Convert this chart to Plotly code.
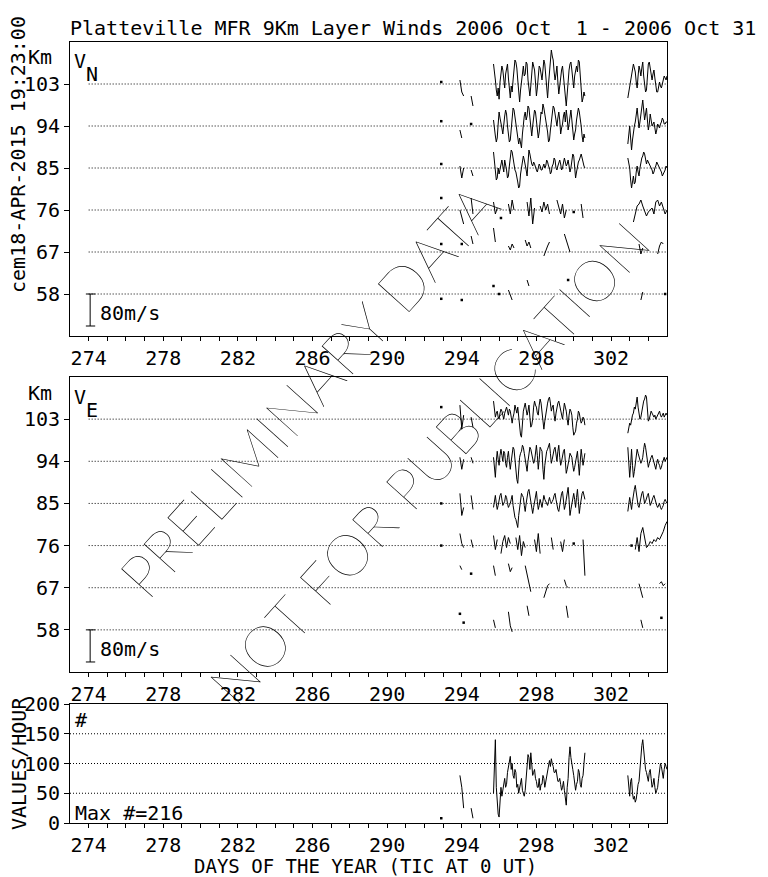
import plotly.graph_objects as go

N = None
FONT = "DejaVu Sans Mono"

heights = [58, 67, 76, 85, 94, 103]
day_ticks = [274, 278, 282, 286, 290, 294, 298, 302]
count_ticks = [0, 50, 100, 150, 200]

# sample times (day of year)
days_early = [292.9, N, 293.9, 294.0, 294.1, N, 294.5, 294.6]
days_main = [round(295.7 + 0.1 * i, 2) for i in range(50)]        # sparse levels
days_late = [round(302.8 + 0.1 * i, 2) for i in range(23)]
days_main_fine = [round(295.7 + 0.05 * i, 2) for i in range(99)]  # dense levels
days_late_fine = [round(302.8 + 0.05 * i, 2) for i in range(45)]

# ---------------- V_N (m/s) ----------------
vn103_early = [5, N, 10, -20, -30, N, -30, -55]
vn103_main = [50, 35, 10, -15, -30, -10, -38, 5, 20, 45,
              35, 0, -10, 25, 40, 50, 15, -20, -35, -5,
              -20, 10, 30, 60, 55, 40, 10, -25, -45, -15,
              5, 30, 45, 20, 25, 55, 50, 10, -20, -30,
              -5, 30, 55, 45, 35, 5, -30, -10, 20, 45,
              40, 15, 10, 35, 60, 50, 25, -10, -35, 0,
              30, 65, 85, 70, 60, 30, 10, 25, 45, 5,
              -25, -5, 20, 35, 45, 25, 0, -30, -55, -20,
              10, 35, 50, 55, 35, 15, -10, 20, 40, 45,
              30, 60, 55, 10, -30, -45, -35, -20, -30]
vn103_late = [N, N, -35, -20, -10, 5, 25, 45, 50, 40,
              30, 5, -10, 20, 45, 35, 20, 40, 55, 20,
              0, -20, -15, 20, 50, 55, 40, 20, 10, 25,
              35, 15, -5, -20, -20, -5, 5, -5, -10, 0,
              10, 20, 15, 10, 20]

vn94_early = [12, N, -10, -30, N, N, 5, N]
vn94_main = [15, -10, -25, -40, -30, 5, 35, 20, 10, -5,
             -20, 10, 25, 40, 30, 0, -15, -40, -35, 0,
             20, 45, 40, 20, 5, -15, -25, -45, -30, -50,
             -55, -20, 10, 25, 35, 15, 25, 50, 45, 15,
             -10, -25, 0, 30, 40, 35, 15, -10, -30, -15,
             5, 35, 30, 55, 45, 30, 20, -5, -15, -40,
             -35, -10, 10, 40, 50, 45, 30, 5, 0, 20,
             35, 15, -20, -5, 5, 25, 35, 10, 40, 20,
             -10, 5, 25, 40, 15, -10, -35, -20, -10, 15,
             30, 45, 35, 20, 0, -25, -40, -20, -30]
vn94_late = [N, N, -45, -20, 0, -30, -60, -35, -10, 0,
             10, 30, 45, 20, -5, 10, 25, 50, 65, 40,
             15, 30, 45, 15, -10, 5, 30, 15, 0, 5,
             10, -5, -20, -10, 5, 0, -5, 5, 10, 20,
             15, 5, 5, 10, 10]

vn85_early = [10, N, 5, -25, 0, N, -5, -20]
vn85_main = [40, 15, -10, -30, -25, 0, -15, -5, 10, 20,
             5, -10, 20, 10, -5, -25, -20, 5, 25, 45,
             40, 20, 15, -5, -10, -30, -35, -50, -45, -15,
             0, 15, 30, 20, 10, -5, -20, 20, 45, 35,
             20, 10, 5, 15, 10, 0, -5, -10, 0, 10,
             5, -5, -5, 5, 10, 0, 5, 20, 15, 5,
             0, -15, -10, 5, 10, 25, 20, 0, -5, 5,
             15, 20, 10, -5, 0, 15, 25, 15, 5, 10,
             20, 5, -10, 0, 15, 35, 30, 5, -25, -10,
             5, 15, 20, 30, 35, 25, 10, 5, 0]
vn85_late = [N, N, 25, 10, 0, -30, -50, -35, -20, -40,
             -35, -10, 5, -10, -20, 0, 15, 25, 30, 40,
             35, 20, 10, 20, 15, 10, 5, 0, -5, -15,
             -10, 0, 5, 15, 10, 5, 0, -5, -10, -20,
             -15, -10, -5, 5, 0]

vn76_early = [30, N, 0, -20, -35, N, 30, -10]
vn76_main = [20, -10, 5, N, -20, N, N, N, 15, -10,
             25, 0, N, N, N, N, N, N, 20, -15,
             30, -35, 5, N, N, 10, -5, 20, 0, 15,
             -10, N, N, N, 25, 5, -10, 15, -20, 0,
             N, N, N, -5, N, N, N, 15, -20, N]
vn76_late = [N, N, N, N, -30, -5, 10, 15, 25, 10, -5, -15, -5, 0, 5, -10, 20, 25, 10, 20, 5, -10, 0]

vn67_early = [20, N, N, 20, N, N, 40, 20]
vn67_main = [60, 25, N, N, N, N, N, N, 15, 5,
             20, 10, N, N, N, N, N, 30, 15, 25,
             10, N, N, N, N, N, N, -10, 5, 15,
             25, N, N, N, N, N, N, N, 45, 30,
             10, 0, N, N, N, N, N, N, N, N]
vn67_late = [N, N, N, N, N, N, N, 20, -5, 10, N, N, N, N, N, N, N, -5, 15, 25, 20, N, N]

vn58_early = [-12, N, N, -15, N, N, N, N]
vn58_main = [20, N, N, 0, N, N, N, N, 10, -5,
             -15, N, N, N, N, N, N, N, 35, 20,
             N, N, N, N, N, N, N, N, N, N,
             N, N, N, N, N, N, N, N, N, N,
             35, N, N, N, N, N, N, N, N, N]
vn58_late = [N, N, N, N, N, N, N, N, -15, 5, N, N, N, N, N, N, N, N, N, N, N, 0, N]

# ---------------- V_E (m/s) ----------------
ve103_early = [30, N, 35, -25, 10, N, 5, -20]
ve103_main = [45, 25, 5, 15, 20, 5, 0, 15, 25, 20,
              10, 0, 15, 25, 30, 20, 10, 25, 20, 5,
              -10, 5, 15, 35, 25, 15, 30, 0, -30, -40,
              -45, -10, 20, 30, 40, 25, 10, 20, 35, 5,
              -20, -15, 0, 30, 45, 35, 30, 15, 10, 35,
              50, 40, 20, -10, -25, -5, 15, 30, 40, 50,
              55, 40, 20, 30, 35, 10, -5, 15, 30, 40,
              45, 35, 25, 10, 0, 20, 40, 30, 20, 0,
              -15, 10, 25, 20, 10, -20, -40, -35, -30, -10,
              0, 20, 15, 0, -10, -5, 5, 0, -15]
ve103_late = [N, N, -35, -25, -10, -15, 0, 10, 15, 30,
              25, 45, 55, 30, 10, 0, 5, 20, 30, 45,
              50, 60, 55, 20, -5, 0, 10, 20, 15, 10,
              5, 10, 0, 5, 10, 15, 20, 10, 5, 10,
              15, 5, 10, 15, 10]

ve94_early = [N, N, 10, -20, 5, N, 10, -5]
ve94_main = [10, -20, -40, 0, 25, 5, -10, 15, 30, 15,
             0, 25, 20, -5, -15, 10, 25, 0, -20, 0,
             15, 35, 30, 0, -30, -45, -55, -20, 10, 20,
             25, 40, 35, 20, 5, -15, -25, 0, 20, 35,
             30, 15, 10, -5, 0, 20, 40, 15, -20, 5,
             35, 30, 25, -20, -45, -10, 15, 25, 30, 40,
             45, 20, -5, 5, 20, 30, 35, 15, 0, 25,
             40, 10, -10, 0, 15, 25, 30, 0, -30, -20,
             -10, 5, 20, 15, 10, -10, -25, -15, 0, 10,
             25, -5, -35, 0, 30, 10, -10, 5, 20]
ve94_late = [N, N, 35, 0, -40, -10, 30, -10, -40, -25,
             -5, 15, 30, 20, 10, 0, -5, 0, 10, 30,
             45, 35, 20, 0, -15, -5, 5, 10, 15, 5,
             0, -10, -20, -5, 5, -5, -10, -20, -15, -5,
             5, 10, 0, 5, 10]

ve85_early = [0, N, 25, -30, -10, N, 20, -15]
ve85_main = [-10, 5, 20, 0, -15, -5, 10, 20, 25, 5,
             -5, 0, 5, 20, 15, 0, -10, -5, 0, 10,
             20, -5, -25, -35, -40, -55, -60, -30, -10, 10,
             25, 20, 15, -5, -20, 0, 20, 30, 35, 20,
             10, -10, -25, -10, 5, 20, 30, 5, -15, -5,
             10, 0, -10, 5, 20, 10, 5, 0, -5, 5,
             15, 5, 0, 5, 10, 20, 25, 10, -5, -15,
             -20, 0, 20, 25, 30, 5, -15, -5, 10, 25,
             40, 10, -30, -15, 0, 15, 25, 10, -10, 15,
             35, 5, -25, -5, 15, 25, 30, 20, 10]
ve85_late = [N, N, -20, 0, 15, 0, -15, 5, 25, 35,
             45, 25, 10, -5, -10, 5, 20, 25, 30, 10,
             0, 5, 15, 20, 25, 10, -5, 0, 10, 15,
             20, 10, 5, -5, -10, -5, 0, -10, -15, -10,
             -5, 5, 10, 5, 0]

ve76_early = [0, N, 30, 5, -5, N, 15, -5]
ve76_main = [25, -10, 15, N, -20, 10, 25, -5, 20, 5,
             N, N, 20, -10, 25, -25, 10, -5, N, N,
             N, N, 15, -15, 30, -20, N, N, N, N,
             N, 20, -10, N, N, N, 10, -15, 15, N,
             N, N, N, 5, N, N, N, N, 15, -75]
ve76_late = [N, N, N, 0, N, -10, 20, -15, 30, 45, 15, -5, 0, 10, 5, 15, 10, 20, 15, 25, 35, 50, 60]

ve67_early = [N, N, 55, 45, N, N, 35, N]
ve67_main = [55, 30, N, N, N, N, N, N, 60, 40,
             50, N, N, N, N, N, N, 55, 35, 15,
             -10, N, N, N, N, N, N, -25, -10, 5,
             10, N, N, N, N, N, N, N, 20, 5,
             0, N, N, N, N, N, N, N, N, N]
ve67_late = [N, N, N, N, N, N, N, 10, -5, -25, N, N, N, N, N, N, N, N, 10, 15, 5, 10, N]

ve58_early = [N, N, 40, N, 18, N, N, N]
ve58_main = [25, 5, N, N, N, N, N, N, 45, 10,
             -5, N, N, N, N, N, N, N, 60, 35,
             N, N, N, N, N, N, N, N, N, N,
             N, N, N, N, N, N, N, N, N, 60,
             30, N, N, N, N, N, N, N, N, N]
ve58_late = [N, N, N, N, N, N, N, N, 25, 5, N, N, N, N, N, N, N, N, N, 30, N, N, N]

# ---------------- values per hour ----------------
count_early = [8, N, 80, 60, 25, N, 25, 8]
count_main = [50, 110, 140, 60, 30, 15, 10, 40, 60, 45,
              55, 70, 75, 60, 65, 85, 95, 110, 112, 90,
              100, 80, 75, 90, 85, 60, 65, 50, 60, 70,
              75, 55, 50, 45, 55, 80, 95, 115, 110, 90,
              118, 95, 80, 85, 90, 75, 70, 60, 60, 75,
              55, 65, 65, 80, 75, 60, 70, 80, 90, 100,
              105, 95, 108, 100, 95, 85, 85, 90, 80, 70,
              70, 75, 65, 55, 60, 70, 55, 40, 30, 60,
              75, 110, 128, 110, 95, 90, 80, 60, 55, 65,
              70, 90, 85, 65, 60, 75, 80, 100, 118]
count_late = [N, N, 80, 60, 45, 70, 75, 50, 40, 45,
              35, 40, 55, 65, 70, 95, 115, 130, 140, 120,
              110, 90, 85, 75, 70, 85, 90, 75, 60, 65,
              75, 60, 50, 55, 60, 75, 90, 100, 95, 80,
              75, 90, 100, 95, 90]

SCALE_MS = 80  # scale bar, m/s
KM_PER_MS = (9 / 42) * 0.4  # 80 m/s spans 32 px; 9 km spans 42 px

vn_series = {103: (vn103_early, vn103_main, vn103_late), 94: (vn94_early, vn94_main, vn94_late),
             85: (vn85_early, vn85_main, vn85_late), 76: (vn76_early, vn76_main, vn76_late),
             67: (vn67_early, vn67_main, vn67_late), 58: (vn58_early, vn58_main, vn58_late)}
ve_series = {103: (ve103_early, ve103_main, ve103_late), 94: (ve94_early, ve94_main, ve94_late),
             85: (ve85_early, ve85_main, ve85_late), 76: (ve76_early, ve76_main, ve76_late),
             67: (ve67_early, ve67_main, ve67_late), 58: (ve58_early, ve58_main, ve58_late)}

fig = go.Figure()


def build(parts):
    e, m, l = parts
    if len(m) == len(days_main_fine):
        xm, xl = days_main_fine, days_late_fine
    else:
        xm, xl = days_main, days_late
    assert len(m) == len(xm) and len(l) == len(xl) and len(e) == len(days_early)
    return days_early + [None] + xm + [None] + xl, e + [None] + m + [None] + l


def add_series(parts, xa, ya, base=0.0, k=1.0):
    xs, vals = build(parts)
    ys = [None if (v is None or xv is None) else base + v * k for xv, v in zip(xs, vals)]
    fig.add_trace(go.Scatter(x=xs, y=ys, xaxis=xa, yaxis=ya, mode="lines",
                             line=dict(color="black", width=1), connectgaps=False,
                             hoverinfo="skip", showlegend=False))
    px_, py_ = [], []
    for j, yv in enumerate(ys):
        if yv is None:
            continue
        prev_none = j == 0 or ys[j - 1] is None
        next_none = j == len(ys) - 1 or ys[j + 1] is None
        if prev_none and next_none:
            px_.append(xs[j])
            py_.append(yv)
    if px_:
        fig.add_trace(go.Scatter(x=px_, y=py_, xaxis=xa, yaxis=ya, mode="markers",
                                 marker=dict(color="black", size=2.5, symbol="square"),
                                 hoverinfo="skip", showlegend=False))


for h in heights:
    add_series(vn_series[h], "x", "y", base=h, k=KM_PER_MS)
    add_series(ve_series[h], "x2", "y2", base=h, k=KM_PER_MS)
add_series((count_early, count_main, count_late), "x3", "y3")

# page has an 8px body margin: the figure is placed at (8, 8)
OFF = 8
W, H = 768 - OFF, 877 - OFF


def PX(px):
    return (px - OFF) / W


def PY(py):
    return 1 - (py - OFF) / H


xdom = [PX(70), PX(667)]


def ydom(top, bottom):
    return [PY(bottom), PY(top)]


tickfont = dict(family=FONT, size=20, color="black")
common_x = dict(domain=xdom, range=[273, 305], tickmode="array", tickvals=day_ticks,
                ticks="outside", ticklen=4, tickcolor="black", showline=True, mirror=True,
                linecolor="black", linewidth=1, showgrid=False, zeroline=False,
                tickfont=tickfont, ticklabelstandoff=0, automargin=False,
                minor=dict(tickmode="array", tickvals=list(range(274, 305)), ticks="outside",
                           ticklen=4, tickcolor="black", showgrid=False))
common_y = dict(ticks="outside", ticklen=5, tickcolor="black", showline=True, mirror=True,
                linecolor="black", linewidth=1, showgrid=False, zeroline=False,
                tickfont=tickfont, tickmode="array", ticklabelstandoff=0, automargin=False)

fig.update_layout(
    template="none",
    width=W, height=H, margin=dict(l=0, r=0, t=0, b=0, autoexpand=False),
    paper_bgcolor="white", plot_bgcolor="white",
    xaxis=dict(common_x, anchor="y"),
    xaxis2=dict(common_x, anchor="y2"),
    xaxis3=dict(common_x, anchor="y3"),
    yaxis=dict(common_y, domain=ydom(42, 336), range=[49, 112], tickvals=heights, anchor="x"),
    yaxis2=dict(common_y, domain=ydom(377, 672), range=[49, 112], tickvals=heights, anchor="x2"),
    yaxis3=dict(common_y, domain=ydom(704, 823), range=[0, 200], tickvals=count_ticks, anchor="x3"),
)

shapes = []
dot = dict(color="black", width=1, dash="1px,2px")
for xr, yr in (("x", "y"), ("x2", "y2")):
    for h in heights:
        shapes.append(dict(type="line", xref=xr, yref=yr, x0=274, x1=305, y0=h, y1=h,
                           line=dot, layer="below"))
    y_top = 58
    y_bot = 58 - SCALE_MS * KM_PER_MS
    shapes.append(dict(type="line", xref=xr, yref=yr, x0=274.08, x1=274.08, y0=y_top, y1=y_bot,
                       line=dict(color="black", width=1)))
    for yy in (y_top, y_bot):
        shapes.append(dict(type="line", xref=xr, yref=yr, x0=273.85, x1=274.35, y0=yy, y1=yy,
                           line=dict(color="black", width=1)))
for c in count_ticks[1:-1]:
    shapes.append(dict(type="line", xref="x3", yref="y3", x0=273, x1=305, y0=c, y1=c,
                       line=dot, layer="below"))
fig.update_layout(shapes=shapes)


def ann(text, x, y, xanchor="center", angle=0, size=20, family=FONT, weight=None):
    f = dict(family=family, size=size, color="black")
    if weight is not None:
        f["weight"] = weight
    fig.add_annotation(text=text, x=PX(x), y=PY(y), xref="paper", yref="paper",
                       xanchor=xanchor, yanchor="middle", showarrow=False,
                       textangle=angle, font=f, borderpad=0)


ann("Platteville MFR 9Km Layer Winds 2006 Oct  1 - 2006 Oct 31", 69, 28, xanchor="left")
ann("cem18-APR-2015 19:23:00", 18, 155, angle=-90)
ann("Km", 40, 57)
ann("V", 80, 61)
ann("N", 92, 74)
ann("80m/s", 99, 313, xanchor="left")
ann("Km", 40, 393)
ann("V", 80, 397)
ann("E", 92, 410)
ann("80m/s", 99, 649, xanchor="left")
ann("#", 81, 720)
ann("Max #=216", 74, 813, xanchor="left")
ann("VALUES/HOUR", 19, 764, angle=-90)
ann("DAYS OF THE YEAR (TIC AT 0 UT)", 365, 866, size=19)

# watermark
ann("PRELIMINARY DATA", 308, 390, angle=-48, size=60, family="Lato", weight=100)
ann("NOT FOR PUBLICATION", 428, 462, angle=-48, size=58, family="Lato", weight=100)

fig.write_html("out.html")
